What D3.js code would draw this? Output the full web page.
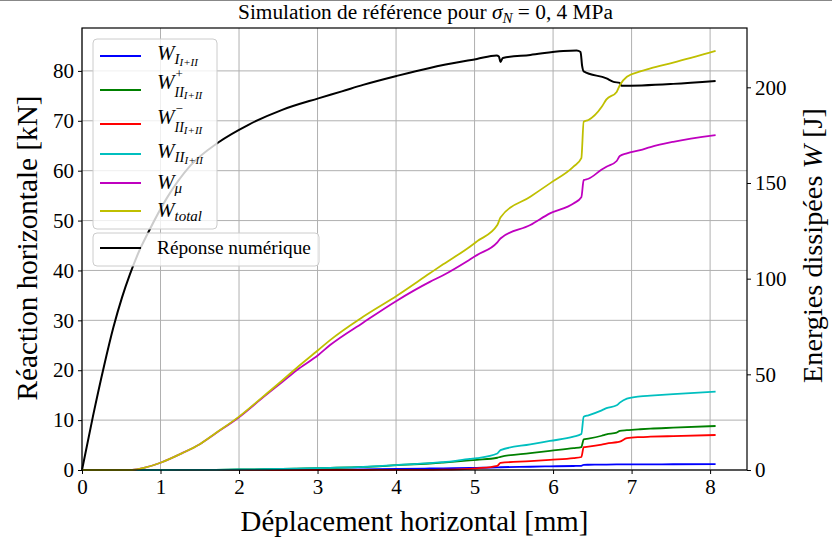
<!DOCTYPE html>
<html><head><meta charset="utf-8">
<script src="https://cdn.jsdelivr.net/npm/d3@7"></script>
<style>body{margin:0;background:#fff} svg text{font-family:"Liberation Serif","DejaVu Serif",serif;fill:#000;white-space:pre}</style>
</head><body><svg id="c" width="832" height="544"></svg>
<script>
// ---------- data ----------
const xTicks = [0,1,2,3,4,5,6,7,8];
const leftTicks = [0,10,20,30,40,50,60,70,80];
const rightTicks = [0,50,100,150,200];

const forceX = [0, 0.14, 0.28, 0.40, 0.51, 0.61, 0.72, 0.84, 1.08, 1.38, 1.74, 2.12, 2.55, 3.01, 3.31, 3.58, 4.01, 4.43, 5.03, 5.28, 5.31, 5.33, 5.36, 5.71, 6.13, 6.30, 6.35, 6.37, 6.39, 6.68, 6.77, 6.85, 6.87, 7.53, 8.07];
const forceY = [0, 10.8, 20.8, 28.6, 34.6, 39.2, 43.6, 47.5, 54.5, 61.0, 65.7, 69.2, 72.2, 74.5, 75.9, 77.2, 79.0, 80.6, 82.4, 83.1, 82.9, 81.8, 82.6, 83.2, 84.0, 84.1, 83.8, 81.0, 79.9, 78.5, 77.8, 77.6, 77.0, 77.4, 78.0];

const energyX   = [0, 0.64, 0.8, 1.0, 1.27, 1.5, 1.7, 2.0, 2.31, 2.55, 2.73, 3.01, 3.16, 3.58, 4.01, 4.43, 4.6, 4.94, 5.03, 5.29, 5.33, 5.71, 5.96, 6.26, 6.36, 6.39, 6.45, 6.62, 6.68, 6.81, 6.85, 6.94, 7.11, 7.24, 7.53, 8.07];
const W_I       = [0,0,0,0,0,0,0,0, 0.05, 0.08, 0.1, 0.15, 0.2, 0.35, 0.55, 0.8, 0.9, 1.1, 1.15, 1.35, 1.45, 1.7, 1.9, 2.1, 2.2, 2.7, 2.75, 2.8, 2.85, 2.9, 2.9, 2.92, 2.95, 2.97, 3.0, 3.1];
const W_IIplus  = [0, 0, 0, 0, 0.02, 0.05, 0.1, 0.25, 0.4, 0.55, 0.7, 0.95, 1.1, 1.6, 2.5, 3.4, 3.9, 5.0, 5.3, 6.4, 6.9, 8.8, 10.0, 11.4, 12.0, 16.0, 16.4, 17.9, 18.6, 19.5, 20.4, 20.8, 21.3, 21.6, 22.1, 23.0];
const W_IIminus = [0,0,0,0,0,0,0,0,0,0,0,0,0,0, 0.05, 0.1, 0.15, 0.6, 0.9, 2.2, 3.7, 4.6, 5.3, 6.2, 6.8, 11.9, 12.2, 13.3, 13.8, 14.5, 14.8, 16.6, 17.2, 17.4, 17.7, 18.3];
const W_II      = [0, 0, 0, 0, 0.02, 0.05, 0.1, 0.25, 0.4, 0.55, 0.7, 0.95, 1.1, 1.6, 2.6, 3.6, 4.1, 5.8, 6.2, 8.6, 10.4, 13.4, 15.2, 17.4, 18.8, 27.8, 28.6, 31.2, 32.3, 33.8, 35.2, 37.3, 38.5, 38.9, 39.7, 41.0];
const W_mu      = [0, 0, 1.2, 3.8, 8.7, 13.5, 19.1, 27.6, 38.1, 46.0, 52.0, 60.1, 65.3, 77.0, 88.5, 98.3, 101.8, 110.0, 112.3, 119.0, 121.0, 128.0, 134.1, 139.3, 142.5, 151.5, 152.2, 157.0, 158.5, 161.5, 164.1, 165.5, 167.2, 168.8, 171.5, 175.0];
const W_total   = [0, 0, 1.2, 3.8, 8.7, 13.5, 19.2, 27.9, 38.5, 46.8, 53.2, 62.7, 67.9, 80.1, 91.1, 102.8, 107.5, 116.7, 119.5, 128.0, 132.0, 142.8, 149.8, 158.5, 163.0, 182.0, 182.9, 189.8, 193.7, 197.6, 201.1, 205.5, 208.3, 209.9, 212.9, 219.0];

const energySeries = [
  {vals: W_I,       color: "#0000ff"},
  {vals: W_IIplus,  color: "#008000"},
  {vals: W_IIminus, color: "#ff0000"},
  {vals: W_II,      color: "#00bfbf"},
  {vals: W_mu,      color: "#bf00bf"},
  {vals: W_total,   color: "#bfbf00"}
];

// ---------- layout ----------
const svg = d3.select('#c');
const L=82, R=747, T=28, B=470;
const x  = d3.scaleLinear().domain([0, 8.47]).range([L, R]);
const yL = d3.scaleLinear().domain([0, 88.6]).range([B, T]);
const yR = d3.scaleLinear().domain([0, 231]).range([B, T]);

svg.append('line').attr('x1',0).attr('x2',832).attr('y1',0.5).attr('y2',0.5).attr('stroke','#888').attr('stroke-width',1);

// grid
const grid = svg.append('g').attr('stroke','#b0b0b0').attr('stroke-width',1);
grid.selectAll('.gx').data(xTicks).join('line')
  .attr('x1',d=>x(d)).attr('x2',d=>x(d)).attr('y1',T).attr('y2',B);
grid.selectAll('.gy').data(leftTicks).join('line')
  .attr('x1',L).attr('x2',R).attr('y1',d=>yL(d)).attr('y2',d=>yL(d));

// helpers
function mathText(g, x0, y0, runs){
  let cx = x0;
  runs.forEach(r=>{
    const t = g.append('text').attr('x', cx + (r.dx||0)).attr('y', y0 + (r.dy||0))
      .attr('font-size', r.fs).attr('font-style', r.it ? 'italic' : 'normal').text(r.t);
    const w = t.node().getComputedTextLength();
    if(!r.stack) cx += w + (r.dx||0);
  });
  return cx - x0;
}
function fitText(sel, target){
  const fs = +sel.attr('font-size');
  const w = sel.node().getComputedTextLength();
  sel.attr('font-size', fs*target/w);
}

// black force curve (left axis)
const lineF = d3.line().x((d,i)=>x(forceX[i])).y(d=>yL(d)).curve(d3.curveMonotoneX);
svg.append('path').datum(forceY).attr('d', lineF).attr('fill','none')
  .attr('stroke','#000').attr('stroke-width',2).attr('stroke-linejoin','round');

// legend 2 (force)
const lg2 = svg.append('g');
lg2.append('rect').attr('x',93).attr('y',233).attr('width',226).attr('height',33).attr('rx',4)
  .attr('fill','#fff').attr('fill-opacity',0.8).attr('stroke','#cccccc');
lg2.append('line').attr('x1',100).attr('x2',141).attr('y1',248).attr('y2',248).attr('stroke','#000').attr('stroke-width',2);
const t2 = lg2.append('text').attr('x',157).attr('y',254).attr('font-size',19).text('Réponse numérique');
fitText(t2, 154);

// energy curves (right axis)
const eg = svg.append('g');
energySeries.forEach(s=>{
  const ln = d3.line().x((d,i)=>x(energyX[i])).y(d=>yR(d)).curve(d3.curveMonotoneX);
  eg.append('path').datum(s.vals).attr('d', ln).attr('fill','none')
    .attr('stroke', s.color).attr('stroke-width',1.8).attr('stroke-linejoin','round');
});

// legend 1 (energies)
const lg1 = svg.append('g');
lg1.append('rect').attr('x',93).attr('y',39).attr('width',124).attr('height',190).attr('rx',4)
  .attr('fill','#fff').attr('fill-opacity',0.8).attr('stroke','#cccccc');
const handleY = [56, 90, 124, 154, 183, 211];
const baseY   = [60, 89, 123.5, 158, 189, 217];
energySeries.forEach((s,i)=>{
  lg1.append('line').attr('x1',100).attr('x2',141).attr('y1',handleY[i]).attr('y2',handleY[i])
    .attr('stroke', s.color).attr('stroke-width',1.8);
});
const W = {t:'W', fs:21, it:true};
const lx = 157;
mathText(lg1, lx, baseY[0], [W, {t:'I',fs:15,it:true,dy:4}, {t:'I+II',fs:11,it:true,dy:6}]);
mathText(lg1, lx, baseY[1], [W, {t:'+',fs:13,dy:-11,dx:1,stack:true}, {t:'II',fs:14,it:true,dy:8}, {t:'I+II',fs:11,it:true,dy:10}]);
mathText(lg1, lx, baseY[2], [W, {t:'−',fs:13,dy:-11,dx:1,stack:true}, {t:'II',fs:14,it:true,dy:8}, {t:'I+II',fs:11,it:true,dy:10}]);
mathText(lg1, lx, baseY[3], [W, {t:'II',fs:15,it:true,dy:4}, {t:'I+II',fs:11,it:true,dy:6}]);
mathText(lg1, lx, baseY[4], [W, {t:'μ',fs:15,it:true,dy:4}]);
mathText(lg1, lx, baseY[5], [W, {t:'total',fs:15,it:true,dy:4}]);

// frame
svg.append('rect').attr('x',L).attr('y',T).attr('width',R-L).attr('height',B-T)
  .attr('fill','none').attr('stroke','#000').attr('stroke-width',1.2);

// axes
function styleAxis(g){
  g.select('.domain').remove();
  g.selectAll('line').attr('stroke','#000').attr('stroke-width',1);
  g.selectAll('text').attr('font-size',21).attr('font-family','"Liberation Serif",serif');
}
svg.append('g').attr('transform',`translate(0,${B})`)
  .call(d3.axisBottom(x).tickValues(xTicks).tickSize(4).tickPadding(5).tickFormat(d3.format('d')))
  .call(styleAxis);
svg.append('g').attr('transform',`translate(${L},0)`)
  .call(d3.axisLeft(yL).tickValues(leftTicks).tickSize(4).tickPadding(4).tickFormat(d3.format('d')))
  .call(styleAxis);
svg.append('g').attr('transform',`translate(${R},0)`)
  .call(d3.axisRight(yR).tickValues(rightTicks).tickSize(4).tickPadding(4).tickFormat(d3.format('d')))
  .call(styleAxis);

// axis labels
const xl = svg.append('text').attr('x',414.5).attr('y',531).attr('text-anchor','middle')
  .attr('font-size',27).text('Déplacement horizontal [mm]');
fitText(xl, 348);
const yl = svg.append('text').attr('transform','translate(37,248) rotate(-90)').attr('text-anchor','middle')
  .attr('font-size',27).text('Réaction horizontale [kN]');
fitText(yl, 305);

// right label, fitted to width 275
const yrIn = svg.append('g');
const yrw = mathText(yrIn, 0, 0, [{t:'Energies dissipées ',fs:27},{t:'W',fs:27,it:true},{t:' [J]',fs:27}]);
const kr = 275/yrw;
yrIn.attr('transform',`translate(822,245.5) rotate(-90) scale(${kr}) translate(${-yrw/2},0)`);

// title, fitted to width 375
const tg = svg.append('g');
const tw = mathText(tg, 0, 0, [{t:'Simulation de référence pour ',fs:17},{t:'σ',fs:17,it:true},{t:'N',fs:12,it:true,dy:3},{t:' = 0, 4 MPa',fs:17}]);
const kt = 375/tw;
tg.attr('transform',`translate(${425.5 - 375/2},19) scale(${kt})`);
</script></body></html>
